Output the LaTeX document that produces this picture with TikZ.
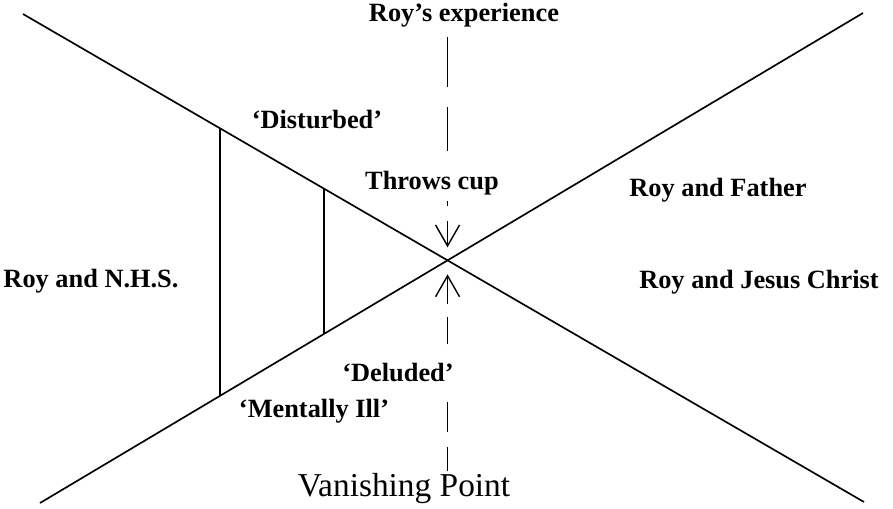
\documentclass[tikz,border=0pt]{standalone}
\usepackage{fontspec}
\setmainfont{Liberation Serif}
\usetikzlibrary{calc,arrows.meta}

\begin{document}
\begin{tikzpicture}[x=0.02cm, y=-0.02cm,
  ray/.style={line width=0.95pt},
  lbl/.style={font=\bfseries\fontsize{15}{18}\selectfont, inner sep=0pt},
  guide/.style={line width=0.8pt, -{Straight Barb[length=4.2mm,width=4.8mm]}}]
  \useasboundingbox (0,0) rectangle (893,508);

  % Crossing lines
  \coordinate (tl) at (23,14);
  \coordinate (br) at (864,502);
  \coordinate (bl) at (40,503);
  \coordinate (tr) at (863,13);
  \coordinate (vp) at (intersection of tl--br and bl--tr);
  \draw[ray] (tl) -- (br);
  \draw[ray] (bl) -- (tr);

  % Cross-sections
  \coordinate (a1) at ($(tl)!0.2342!(br)$);
  \coordinate (a2) at ($(bl)!0.2187!(tr)$);
  \coordinate (b1) at ($(tl)!0.3579!(br)$);
  \coordinate (b2) at ($(bl)!0.3451!(tr)$);
  \draw[ray] (a1) -- (a2);
  \draw[ray] (b1) -- (b2);

  % Dashed guides
  \coordinate (top) at ($(vp)+(0,-223)$);
  \coordinate (up) at ($(vp)+(0,-13)$);
  \coordinate (down) at ($(vp)+(0,14)$);
  \coordinate (bot) at ($(vp)+(0,211)$);
  \draw[guide, dash pattern=on 28.5pt off 11.4pt on 25pt off 28.5pt on 2.8pt off 8.5pt on 60pt] (top) -- (up);
  \draw[guide, dash pattern=on 13.7pt off 8.5pt on 17.1pt off 33pt on 15.4pt off 7.4pt on 60pt] (bot) -- (down);

  % Labels
  \node[lbl] (exp) at (464,15) {Roy's experience};
  \node[lbl] (dist) at (317,120) {`Disturbed'};
  \node[lbl] (throws) at (432,183) {Throws cup};
  \node[lbl] (father) at (718,190) {Roy and Father};
  \node[lbl] (nhs) at (91,281) {Roy and N.H.S.};
  \node[lbl] (jesus) at (759,282) {Roy and Jesus Christ};
  \node[lbl] (delud) at (398,373) {`Deluded'};
  \node[lbl] (ill) at (314,411) {`Mentally Ill'};
  \node[font=\fontsize{19}{22}\selectfont, inner sep=0pt] (vanish) at (404,489) {Vanishing Point};
\end{tikzpicture}
\end{document}
